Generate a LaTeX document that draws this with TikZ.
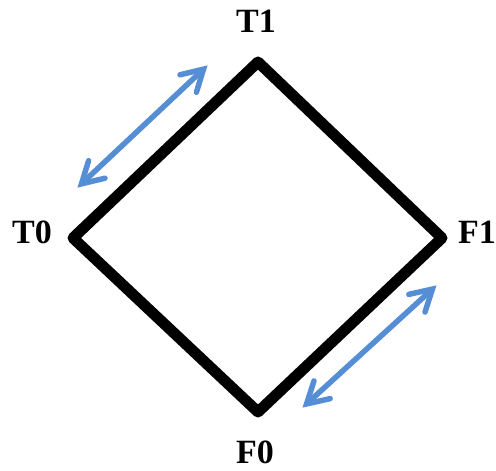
\documentclass[tikz,border=0pt]{standalone}
\usepackage{fontspec}
\setmainfont{Liberation Serif}
\usetikzlibrary{arrows.meta}
\definecolor{arrowblue}{HTML}{558ED5}
\begin{document}
\begin{tikzpicture}[x=1pt,y=-1pt,
  lbl/.style={inner sep=0pt,font=\fontsize{34}{34}\selectfont\bfseries},
  edge/.style={line width=11pt,line join=round,line cap=round},
  rel/.style={draw=arrowblue,line width=5.5pt,line cap=round,
    {Straight Barb[length=21pt,width=24pt,line cap=round]}-{Straight Barb[length=21pt,width=24pt,line cap=round]},
    shorten <=2pt, shorten >=2pt}]
\useasboundingbox (0,0) rectangle (496,471);
\coordinate (vT1) at (258,62);
\coordinate (vT0) at (73,238);
\coordinate (vF1) at (442,238);
\coordinate (vF0) at (258,412);
\draw[edge] (vT1) -- (vF1) -- (vF0) -- (vT0) -- cycle;
\node[lbl] (T1) at (256,21.5) {T1};
\node[lbl] (T0) at (32,232.5) {T0};
\node[lbl] (F1) at (477,232) {F1};
\node[lbl] (F0) at (255,452.5) {F0};
\coordinate (a1) at (76,189);
\coordinate (b1) at (209,64);
\coordinate (a2) at (301,409);
\coordinate (b2) at (438,284);
\draw[rel] (a1) -- (b1);
\draw[rel] (a2) -- (b2);
\end{tikzpicture}
\end{document}
